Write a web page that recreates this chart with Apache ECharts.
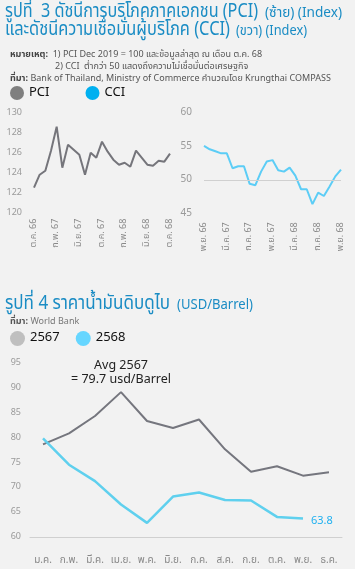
<!DOCTYPE html>
<html>
<head>
<meta charset="utf-8">
<script src="https://cdn.jsdelivr.net/npm/echarts@6/dist/echarts.min.js"></script>
<style>
html,body{margin:0;padding:0;background:#f2f2f2;}
#c{width:355px;height:569px;}
</style>
</head>
<body>
<div id="c"></div>
<script>
// ---- data ----
const pciMonths = ['ต.ค. 66','พ.ย. 66','ธ.ค. 66','ม.ค. 67','ก.พ. 67','มี.ค. 67','เม.ย. 67','พ.ค. 67','มิ.ย. 67','ก.ค. 67','ส.ค. 67','ก.ย. 67','ต.ค. 67','พ.ย. 67','ธ.ค. 67','ม.ค. 68','ก.พ. 68','มี.ค. 68','เม.ย. 68','พ.ค. 68','มิ.ย. 68','ก.ค. 68','ส.ค. 68','ก.ย. 68','ต.ค. 68'];
const pciValues = [122.5,123.8,124.2,126.2,128.6,124.5,126.8,126.3,125.8,123.8,126.0,125.5,127.1,126.1,125.3,124.8,125.0,124.6,126.2,125.5,124.8,124.7,125.2,125.1,125.9];
const cciMonths = ['พ.ย. 66','ธ.ค. 66','ม.ค. 67','ก.พ. 67','มี.ค. 67','เม.ย. 67','พ.ค. 67','มิ.ย. 67','ก.ค. 67','ส.ค. 67','ก.ย. 67','ต.ค. 67','พ.ย. 67','ธ.ค. 67','ม.ค. 68','ก.พ. 68','มี.ค. 68','เม.ย. 68','พ.ค. 68','มิ.ย. 68','ก.ค. 68','ส.ค. 68','ก.ย. 68','ต.ค. 68','พ.ย. 68'];
const cciValues = [55.1,54.6,54.3,54.0,54.0,51.8,52.1,52.1,49.5,49.3,51.3,52.8,53.0,51.5,51.3,51.9,50.7,48.7,48.7,46.5,48.2,47.7,49.1,50.6,51.6];
const oilMonths = ['ม.ค.','ก.พ.','มี.ค.','เม.ย.','พ.ค.','มิ.ย.','ก.ค.','ส.ค.','ก.ย.','ต.ค.','พ.ย.','ธ.ค.'];
const oil2567 = [78.7,80.9,84.4,89.2,83.4,82.0,83.7,77.7,73.2,74.3,72.4,73.1];
const oil2568 = [79.9,74.6,71.3,66.6,62.9,68.2,69.0,67.5,67.4,64.1,63.8,null];
const avg2567 = 79.7;
const pciTicks = {min:120, max:130, interval:2};
const cciTicks = {min:45, max:60, interval:5};
const oilTicks = {min:60, max:95, interval:5};

const FONT = '"Noto Sans Thai","Noto Sans",Roboto,sans-serif';
const TITLE_C = '#1a8cc4';

// condensed heading text: measure natural width, then squeeze to target width
const mctx = document.createElement('canvas').getContext('2d');
function squeezed(text, size, x0, x1, y, color) {
  mctx.font = 'normal ' + size + 'px ' + FONT;
  const w = mctx.measureText(text).width;
  return {type:'text', x:x0, y:y, scaleX:(x1 - x0) / w, originX:0, originY:0, silent:true,
    style:{text:text, fontSize:size, fontFamily:FONT, fontWeight:'normal', fill:color,
      textAlign:'left', textVerticalAlign:'middle'}};
}

const chart = echarts.init(document.getElementById('c'), null, {renderer:'canvas'});
const smallAxisLabel = {color:'#9a9a9a', fontSize:9, fontFamily:FONT};

chart.setOption({
  backgroundColor:'#f2f2f2',
  animation:false,
  textStyle:{fontFamily:FONT},
  graphic:[
    squeezed('รูปที่  3 ดัชนีการบริโภคภาคเอกชน (PCI)', 19, 5, 258, 13, TITLE_C),
    squeezed('(ซ้าย) (Index)', 14, 265, 342, 14, TITLE_C),
    squeezed('และดัชนีความเชื่อมั่นผู้บริโภค (CCI)', 19, 5, 230, 31, TITLE_C),
    squeezed('(ขวา) (Index)', 14, 236, 307, 32, TITLE_C),
    squeezed('รูปที่ 4 ราคาน้ำมันดิบดูไบ', 19, 5, 170, 305, TITLE_C),
    squeezed('(USD/Barrel)', 14, 177, 253, 306, TITLE_C)
  ],
  title:[
    {left:5, top:44,
     text:'{h|หมายเหตุ:}  1) PCI Dec 2019 = 100 และข้อมูลล่าสุด ณ เดือน ต.ค. 68\n{s|}2) CCI  ต่ำกว่า 50 แสดงถึงความไม่เชื่อมั่นต่อเศรษฐกิจ\n{h|ที่มา:} Bank of Thailand, Ministry of Commerce คำนวณโดย Krungthai COMPASS',
     textStyle:{fontSize:9,color:'#555',fontWeight:'normal',fontFamily:FONT,lineHeight:12,
       rich:{h:{fontSize:9,fontWeight:'bold',color:'#444',fontFamily:FONT,lineHeight:12},s:{width:45,lineHeight:12}}}},
    {left:5, top:313,
     text:'{h|ที่มา:} World Bank',
     textStyle:{fontSize:9,color:'#777',fontWeight:'normal',fontFamily:FONT,rich:{h:{fontSize:9,fontWeight:'bold',color:'#555',fontFamily:FONT}}}}
  ],
  legend:[
    {left:5, top:81, icon:'circle', itemWidth:14, itemHeight:14, itemGap:36, selectedMode:false,
     textStyle:{fontSize:13,color:'#111',fontFamily:FONT},
     data:[{name:'PCI',itemStyle:{color:'#7f7f7f'}},{name:'CCI',itemStyle:{color:'#00b0f0'}}]},
    {left:5, top:326, icon:'circle', itemWidth:15, itemHeight:15, itemGap:16, selectedMode:false,
     textStyle:{fontSize:13,color:'#111',fontFamily:FONT},
     data:[{name:'2567',itemStyle:{color:'#bfbfbf'}},{name:'2568',itemStyle:{color:'#66d6ff'}}]}
  ],
  grid:[
    {left:34, top:112.7, width:136, height:100},
    {left:204, top:112.7, width:137, height:101.6},
    {left:30, top:363.3, width:312, height:174}
  ],
  xAxis:[
    {gridIndex:0, type:'category', data:pciMonths, boundaryGap:false,
     axisLine:{show:false}, axisTick:{show:false},
     axisLabel:Object.assign({interval:3, rotate:90, margin:6}, smallAxisLabel, {color:'#888'})},
    {gridIndex:1, type:'category', data:cciMonths, boundaryGap:false,
     axisLine:{show:false}, axisTick:{show:false},
     axisLabel:Object.assign({interval:3, rotate:90, margin:8}, smallAxisLabel, {color:'#888'})},
    {gridIndex:2, type:'category', data:oilMonths, boundaryGap:true,
     axisLine:{show:true, lineStyle:{color:'#d0d0d0', width:1}}, axisTick:{show:false},
     axisLabel:{interval:0, margin:19, color:'#888', fontSize:10, fontFamily:FONT}}
  ],
  yAxis:[
    {gridIndex:0, type:'value', min:pciTicks.min, max:pciTicks.max, interval:pciTicks.interval,
     splitLine:{show:false}, axisLine:{show:false}, axisTick:{show:false},
     axisLabel:Object.assign({margin:12}, smallAxisLabel)},
    {gridIndex:1, type:'value', min:cciTicks.min, max:cciTicks.max, interval:cciTicks.interval,
     splitLine:{show:false}, axisLine:{show:false}, axisTick:{show:false},
     axisLabel:Object.assign({margin:12}, smallAxisLabel, {fontSize:10})},
    {gridIndex:2, type:'value', min:oilTicks.min, max:oilTicks.max, interval:oilTicks.interval,
     splitLine:{show:false}, axisLine:{show:false}, axisTick:{show:false},
     axisLabel:Object.assign({margin:9}, smallAxisLabel)}
  ],
  series:[
    {name:'PCI', type:'line', xAxisIndex:0, yAxisIndex:0, data:pciValues, showSymbol:false,
     lineStyle:{color:'#75757b', width:2}, itemStyle:{color:'#7f7f7f'}},
    {name:'CCI', type:'line', xAxisIndex:1, yAxisIndex:1, data:cciValues, showSymbol:false,
     lineStyle:{color:'#5ccdf6', width:2}, itemStyle:{color:'#00b0f0'},
     markLine:{silent:true, symbol:'none', label:{show:false},
       lineStyle:{color:'#d0d0d0', type:'solid', width:1}, data:[{yAxis:50}]}},
    {name:'2567', type:'line', xAxisIndex:2, yAxisIndex:2, data:oil2567, showSymbol:false,
     lineStyle:{color:'#75767e', width:2}, itemStyle:{color:'#bfbfbf'},
     markPoint:{silent:true, symbol:'rect', symbolSize:0,
       label:{show:true, formatter:'Avg 2567\n= ' + avg2567 + ' usd/Barrel', color:'#222', fontSize:12.5, lineHeight:14, fontFamily:FONT},
       data:[{coord:[3, 92.9]}]}},
    {name:'2568', type:'line', xAxisIndex:2, yAxisIndex:2, data:oil2568, showSymbol:false,
     lineStyle:{color:'#5fd0ee', width:2.5}, itemStyle:{color:'#66d6ff'},
     endLabel:{show:true, formatter:function(p){return p.value;}, color:'#1fb0f0', fontSize:11, distance:8, offset:[0,3], fontFamily:FONT}}
  ]
});
</script>
</body>
</html>
